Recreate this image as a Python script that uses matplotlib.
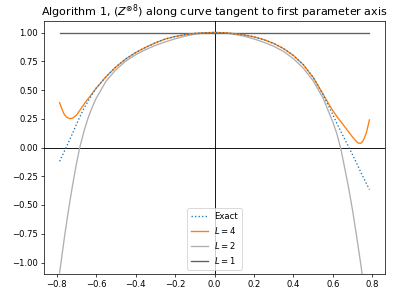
import matplotlib
matplotlib.use("Agg")
import matplotlib.pyplot as plt
import numpy as np

# sample positions along the curve parameter
x_exact = [-0.785, -0.76, -0.74, -0.72, -0.70, -0.68, -0.66, -0.64, -0.62, -0.60,
           -0.55, -0.50, -0.45, -0.40, -0.35, -0.30, -0.25, -0.20, -0.15, -0.10, -0.05, 0.0,
           0.05, 0.10, 0.15, 0.20, 0.25, 0.30, 0.35, 0.40, 0.45, 0.50, 0.55, 0.60,
           0.62, 0.64, 0.66, 0.68, 0.70, 0.72, 0.74, 0.76, 0.785]
y_exact = [-0.12, -0.03, 0.045, 0.12, 0.20, 0.275, 0.345, 0.405, 0.46, 0.515,
           0.615, 0.70, 0.77, 0.825, 0.87, 0.91, 0.943, 0.965, 0.981, 0.992, 0.998, 1.0,
           0.998, 0.99, 0.979, 0.962, 0.938, 0.905, 0.86, 0.80, 0.72, 0.61, 0.46, 0.285,
           0.21, 0.14, 0.072, 0.005, -0.065, -0.135, -0.21, -0.28, -0.365]

x_L4 = [-0.785, -0.77, -0.76, -0.75, -0.74, -0.73, -0.72, -0.70, -0.68, -0.66, -0.64, -0.62, -0.60,
        -0.55, -0.50, -0.45, -0.40, -0.35, -0.30, -0.25, -0.20, -0.15, -0.10, -0.05, 0.0,
        0.05, 0.10, 0.15, 0.20, 0.25, 0.30, 0.35, 0.40, 0.45, 0.50, 0.55, 0.58, 0.60,
        0.62, 0.64, 0.66, 0.68, 0.70, 0.72, 0.73, 0.74, 0.75, 0.76, 0.77, 0.785]
y_L4 = [0.39, 0.32, 0.285, 0.265, 0.255, 0.251, 0.255, 0.28, 0.33, 0.38, 0.425, 0.47, 0.515,
        0.615, 0.70, 0.77, 0.825, 0.87, 0.91, 0.943, 0.965, 0.981, 0.992, 0.998, 1.0,
        0.998, 0.99, 0.979, 0.962, 0.938, 0.905, 0.86, 0.80, 0.72, 0.61, 0.465, 0.375, 0.32,
        0.27, 0.225, 0.18, 0.135, 0.09, 0.05, 0.038, 0.036, 0.05, 0.085, 0.13, 0.24]

x_L2 = [-0.785, -0.76, -0.74, -0.72, -0.70, -0.683, -0.66, -0.64, -0.62, -0.60,
        -0.55, -0.50, -0.45, -0.40, -0.35, -0.30, -0.25, -0.20, -0.15, -0.10, -0.05, 0.0,
        0.05, 0.10, 0.15, 0.20, 0.25, 0.30, 0.35, 0.40, 0.45, 0.50, 0.55, 0.60,
        0.62, 0.64, 0.66, 0.68, 0.70, 0.72, 0.74, 0.76, 0.785]
y_L2 = [-1.09, -0.775, -0.545, -0.335, -0.145, 0.0, 0.15, 0.26, 0.35, 0.426,
        0.576, 0.676, 0.751, 0.806, 0.85, 0.888, 0.918, 0.945, 0.968, 0.985, 0.996, 1.0,
        0.996, 0.985, 0.968, 0.944, 0.915, 0.88, 0.835, 0.772, 0.69, 0.58, 0.43, 0.22,
        0.12, -0.01, -0.18, -0.355, -0.55, -0.77, -1.0, -1.25, -1.58]

x_L1 = [-0.785, 0.785]
y_L1 = [1.0, 1.0]

DPI = 64
fig = plt.figure(figsize=(393 / DPI, 297 / DPI), dpi=DPI)
ax = fig.add_axes([44 / 393, 1 - 274 / 297, (385 - 44) / 393, (274 - 21) / 297])

ax.axhline(0, color='black', lw=1.0, zorder=1)
ax.axvline(0, color='black', lw=1.0, zorder=1)
ax.plot(x_exact, y_exact, ':', color='#1f77b4', label='Exact', zorder=5)
ax.plot(x_L4, y_L4, '-', color='#ff7f0e', label='$L = 4$', zorder=4)
ax.plot(x_L2, y_L2, '-', color='#b0b0b0', label='$L = 2$', zorder=3)
ax.plot(x_L1, y_L1, '-', color='#606060', label='$L = 1$', zorder=3)

ax.set_ylim(-1.1, 1.1)
ax.set_xlim(-0.864, 0.864)
ax.set_yticks([-1.0, -0.75, -0.5, -0.25, 0.0, 0.25, 0.5, 0.75, 1.0])
ax.set_xticks([-0.8, -0.6, -0.4, -0.2, 0.0, 0.2, 0.4, 0.6, 0.8])
ax.tick_params(labelsize=9.5)
ax.set_title('Algorithm 1, $(Z^{\\otimes 8})$ along curve tangent to first parameter axis',
             fontsize=12.5)
ax.legend(loc='lower center', fontsize=9.5, handlelength=2.0)

fig.savefig('out.png', dpi=DPI)
